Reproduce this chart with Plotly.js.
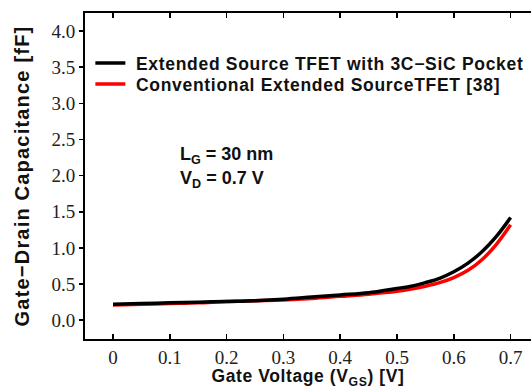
<!DOCTYPE html>
<html>
<head>
<meta charset="utf-8">
<script src="https://cdn.plot.ly/plotly-3.0.1.min.js"></script>
<style>html,body{margin:0;padding:0;background:#fff;}#chart{width:531px;height:389px;}</style>
</head>
<body>
<div id="chart"></div>
<script>
const vgs = [0, 0.05, 0.1, 0.15, 0.2, 0.25, 0.3, 0.35, 0.4, 0.45, 0.5, 0.525, 0.55, 0.575, 0.6, 0.625, 0.65, 0.675, 0.7];
const cgdPocket = [0.22, 0.23, 0.24, 0.25, 0.26, 0.27, 0.29, 0.32, 0.35, 0.38, 0.44, 0.47, 0.52, 0.58, 0.67, 0.79, 0.95, 1.16, 1.42];
const cgdConventional = [0.21, 0.22, 0.23, 0.24, 0.26, 0.27, 0.28, 0.30, 0.33, 0.36, 0.40, 0.43, 0.47, 0.52, 0.59, 0.69, 0.84, 1.05, 1.32];
const seriesNames = ["Extended Source TFET with 3C\u2212SiC Pocket", "Conventional Extended SourceTFET [38]"];
const xTickVals = [0, 0.1, 0.2, 0.3, 0.4, 0.5, 0.6, 0.7];
const xTickText = ["0", "0.1", "0.2", "0.3", "0.4", "0.5", "0.6", "0.7"];
const yTickVals = [0, 0.5, 1.0, 1.5, 2.0, 2.5, 3.0, 3.5, 4.0];
const yTickText = ["0.0", "0.5", "1.0", "1.5", "2.0", "2.5", "3.0", "3.5", "4.0"];

const sans = "Liberation Sans";
const serifFam = "Liberation Serif";

function spaced(t, px) { return '<span style="letter-spacing:' + px + 'px">' + t + '</span>'; }

const legendFont = {family: sans, size: 17.5, color: "#111", weight: "bold"};

const data = [
  {x: vgs, y: cgdConventional, name: spaced("\u00a0" + seriesNames[1], 0.7), legend: "legend2", mode: "lines", line: {color: "#ff0000", width: 3.5, shape: "spline"}},
  {x: vgs, y: cgdPocket, name: spaced("\u00a0" + seriesNames[0], 0.7), legend: "legend", mode: "lines", line: {color: "#000000", width: 3.5, shape: "spline"}}
];

const layout = {
  width: 531, height: 389,
  font: {family: serifFam, size: 19, color: "#222"},
  margin: {l: 85, r: 0, t: 13, b: 50, autoexpand: false},
  paper_bgcolor: "#fff", plot_bgcolor: "#fff",
  showlegend: true,
  legend: {x: 0.012, y: (339 - 63) / 326, xanchor: "left", yanchor: "middle", bgcolor: "rgba(0,0,0,0)",
    font: legendFont, itemwidth: 30},
  legend2: {x: 0.012, y: (339 - 84) / 326, xanchor: "left", yanchor: "middle", bgcolor: "rgba(0,0,0,0)",
    font: legendFont, itemwidth: 30},
  xaxis: {
    range: [-0.0493, 0.7359], tickvals: xTickVals, ticktext: xTickText, automargin: false,
    showgrid: false, zeroline: false, showline: true, linecolor: "#000", linewidth: 2,
    mirror: "ticks", ticks: "inside", ticklen: 5, tickwidth: 1.5, tickcolor: "#000",
    tickfont: {family: serifFam, size: 19, color: "#222"},
    title: {text: spaced("Gate Voltage (V<sub>GS</sub>) [V]", 0.6), font: {family: sans, size: 17.5, color: "#111", weight: "bold"}, standoff: 6}
  },
  yaxis: {
    range: [-0.26, 4.25], tickvals: yTickVals, ticktext: yTickText, automargin: false,
    showgrid: false, zeroline: false, showline: true, linecolor: "#000", linewidth: 2,
    mirror: "ticks", ticks: "outside", ticklen: 4, tickwidth: 1.5, tickcolor: "#000",
    tickfont: {family: serifFam, size: 19, color: "#222"},
    title: {text: spaced("Gate\u2212Drain Capacitance [fF]", 1.2), font: {family: sans, size: 20, color: "#111", weight: "bold"}, standoff: 16}
  },
  annotations: [
    {xref: "paper", yref: "paper", x: (178 - 85) / 446, y: (339 - 155) / 326, xanchor: "left", yanchor: "middle", showarrow: false,
      text: "L<sub>G</sub> = 30 nm", font: {family: sans, size: 18, color: "#111", weight: "bold"}},
    {xref: "paper", yref: "paper", x: (178 - 85) / 446, y: (339 - 180) / 326, xanchor: "left", yanchor: "middle", showarrow: false,
      text: "V<sub>D</sub> = 0.7 V", font: {family: sans, size: 18, color: "#111", weight: "bold"}}
  ]
};

Plotly.newPlot("chart", data, layout, {displayModeBar: false, staticPlot: true});
</script>
</body>
</html>
